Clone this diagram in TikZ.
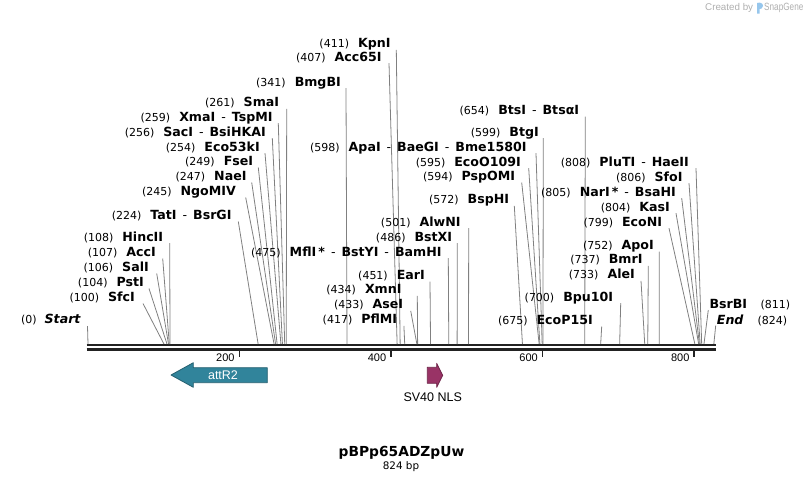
\documentclass[tikz,border=0pt]{standalone}
\usepackage{fontspec}
\setmainfont{DejaVu Sans}
\newfontfamily\featfont{Liberation Sans}
\newcommand{\numf}{\fontsize{11}{13}\selectfont\mdseries\upshape}
\newcommand{\namef}{\fontsize{12.6}{14}\selectfont\bfseries}
\newcommand{\dsh}{\hspace{6pt}{\mdseries -}\hspace{6pt}}
\definecolor{attcol}{RGB}{49,132,155}
\definecolor{attline}{RGB}{38,96,112}
\definecolor{nlscol}{RGB}{153,51,102}
\definecolor{nlsline}{RGB}{110,36,72}
\definecolor{cutgray}{RGB}{128,128,128}
\definecolor{axiscol}{RGB}{34,34,34}
\definecolor{snapblue}{RGB}{150,198,236}
\definecolor{creditgray}{RGB}{175,175,175}
\begin{document}
\begin{tikzpicture}[x=1pt, y=-1pt, line join=round, line cap=butt,
		cutlab/.style={inner sep=0pt, font=\namef},
		cutline/.style={draw=cutgray, line width=0.8pt},
		axisline/.style={draw=axiscol, line width=2.3pt},
		tickline/.style={draw=axiscol, line width=1.3pt},
		ticklab/.style={inner sep=0pt, font=\featfont\fontsize{11}{13}\selectfont},
		featlab/.style={inner sep=0pt, font=\featfont\fontsize{12.5}{14}\selectfont}]
		\useasboundingbox (0,0) rectangle (803,483);
		\path
			(86.7,345.2) coordinate (A)
			(716,345.2) coordinate (B)
			(86.7,349.5) coordinate (C)
			(716,349.5) coordinate (D);
		\draw[axisline] (A)--(B) (C)--(D);
		\foreach \t in {200,400,600,800} {
			\path ({87.7+0.758*\t},351) coordinate (tk\t);
			\draw[tickline] (tk\t)--++(0,6);
			\node[ticklab, anchor=east] (tl\t) at ({87.7+0.758*\t-4.5},357.5) {\t};
		}
		\foreach \ex/\ey/\lx/\bp/\txt [count=\i] in {
			135/297/143/100/SfcI,
			144/282/149/104/PstI,
			149/267/156.7/106/SalI,
			156/252/162.7/107/AccI,
			163.3/236.7/169.7/108/HincII,
			231.7/215/238.3/224/TatI\dsh BsrGI,
			236/191/245.7/245/NgoMIV,
			246.7/176/251.7/247/NaeI,
			253.3/161/258.3/249/FseI,
			260/146.7/265/254/Eco53kI,
			266/131.7/272.3/256/SacI\dsh BsiHKAI,
			272.7/116.7/278.3/259/XmaI\dsh TspMI,
			279.3/102.3/286.7/261/SmaI,
			341/81.7/346/341/BmgBI,
			381.7/56.7/389/407/Acc65I,
			390.7/43.3/396.3/411/KpnI,
			397.3/319.3/403.9/417/PflMI,
			403.3/304.3/410.7/433/AseI,
			401.7/289.3/417.3/434/XmnI,
			425/275/430/451/EarI,
			441.7/251.7/448.3/475/MflI\,*\dsh BstYI\dsh BamHI,
			452.3/236.7/457.3/486/BstXI,
			460.7/221.7/468.7/501/AlwNI,
			509.3/199.3/514.3/572/BspHI,
			515.3/176/521.7/594/PspOMI,
			521/161.7/528.7/595/EcoO109I,
			526.7/146.7/536/598/ApaI\dsh BaeGI\dsh Bme1580I,
			539/131.7/543.3/599/BtgI,
			579.3/110/585.3/654/BtsI\dsh BtsαI,
			593/320/601.7/675/EcoP15I,
			613.3/296.7/620.7/700/Bpu10I,
			635/274.3/641/733/AleI,
			642.7/259.3/648.3/737/BmrI,
			654/245/659.3/752/ApoI,
			662.3/221.7/669/799/EcoNI,
			670/206.7/676/804/KasI,
			676/191.7/681.7/805/NarI\,*\dsh BsaHI,
			682.7/176.7/689/806/SfoI,
			689/161.7/696/808/PluTI\dsh HaeII} {
			\node[cutlab, anchor=base east] (lab\i) at (\ex,\ey+4.5) {{\numf(\bp)}\hspace{9pt}\txt};
			\path (\lx,\ey+6.5) coordinate (top\i) ({88+0.7595*\bp},344) coordinate (site\i);
			\draw[cutline] (top\i)--(site\i);
		}
		\node[cutlab, anchor=base east] (start) at (80.7,323.5) {{\numf(0)}\hspace{8pt}\itshape Start};
		\path (87.5,326) coordinate (start1) (88,344) coordinate (start0);
		\draw[cutline] (start1)--(start0);
		\node[cutlab, anchor=base west] (bsrbi) at (709.3,308.8) {BsrBI\hspace{13.5pt}{\numf(811)}};
		\path (708.3,310) coordinate (bsrbi1) ({88+0.7595*811},344) coordinate (bsrbi0);
		\draw[cutline] (bsrbi1)--(bsrbi0);
		\node[cutlab, anchor=base west] (end) at (716.7,324.5) {{\itshape End}\hspace{14pt}{\numf(824)}};
		\path (715.7,325.5) coordinate (end1) ({88+0.7595*824},344) coordinate (end0);
		\draw[cutline] (end1)--(end0);
		\filldraw[fill=attcol, draw=attline, line width=0.8pt]
			(267.3,367.7)--(193.3,367.7)--(193.3,362.7)--(171,375)--(193.3,387.3)--(193.3,382.7)--(267.3,382.7)--cycle;
		\node[featlab, text=white] (attr2) at (223,375) {attR2};
		\filldraw[fill=nlscol, draw=nlsline, line width=0.8pt]
			(427.3,367.3)--(436.7,367.3)--(436.7,363.3)--(442.7,375.3)--(436.7,387.3)--(436.7,383.3)--(427.3,383.3)--cycle;
		\node[featlab] (sv40) at (432.7,397) {SV40 NLS};
		\node[inner sep=0pt, font=\fontsize{13.8}{16}\selectfont\bfseries] (title) at (401.5,452.7) {pBPp65ADZpUw};
		\node[inner sep=0pt, font=\fontsize{10.4}{12}\selectfont] (size) at (401,466.5) {824 bp};
		\node[inner sep=0pt, anchor=west, text=creditgray, font=\featfont\fontsize{9.8}{11}\selectfont] (created) at (705,8) {Created by};
		\fill[snapblue] (757,13.5)--(757,3) .. controls (760,2) and (763,3) .. (763,6) .. controls (763,8.5) and (760.5,9) .. (759.7,9)--(759.7,13.5)--cycle;
		\node[inner sep=0pt, anchor=west, text=creditgray, font=\featfont\fontsize{10.5}{12}\selectfont] (snapgene) at (764,8) {\scalebox{0.78}[1]{SnapGene}};
		\end{tikzpicture}
\end{document}
